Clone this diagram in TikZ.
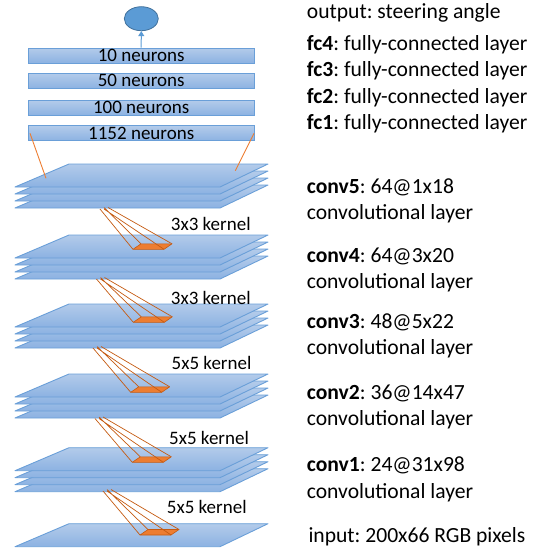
\documentclass[tikz,border=0pt]{standalone}
\usepackage{fontspec}
\setmainfont{Carlito}
\frenchspacing
\usetikzlibrary{arrows.meta,shapes.geometric}
\definecolor{pbord}{HTML}{6A9FD8}
\definecolor{ptop}{HTML}{B3CBEA}
\definecolor{pbot}{HTML}{8CB2E2}
\definecolor{kfill}{HTML}{ED7D31}
\definecolor{kline}{HTML}{C55A11}
\definecolor{ellf}{HTML}{5B9BD5}
\definecolor{elld}{HTML}{41719C}
\tikzset{
  planestyle/.style={draw=pbord, line width=0.9pt, top color=ptop, bottom color=pbot, line join=round},
  neuronbox/.style={draw=pbord, line width=0.9pt, top color=ptop, bottom color=pbot, minimum width=225.7pt, minimum height=15pt, inner sep=0pt, font=\fontsize{19}{19}\selectfont},
  kernelbox/.style={fill=kfill, draw=kline, line width=0.6pt, line join=round},
  kernelline/.style={draw=kline, line width=0.7pt},
  fcline/.style={draw=kfill, line width=0.9pt},
  kernellabel/.style={anchor=west, inner sep=0pt, font=\fontsize{19}{19}\selectfont},
  desc/.style={anchor=west, inner sep=0pt, font=\fontsize{21.6}{26}\selectfont},
}
\newcommand\myplane[1]{\path[planestyle] (15,#1) -- (220,#1) -- (268,#1-23) -- (69,#1-23) -- cycle;}
\newcommand\mystack[1]{\myplane{#1+21}\myplane{#1+14}\myplane{#1+7}\myplane{#1}}
% kernel: #1 name, #2 apex x, #3 apex y, #4 kernel front-left x, #5 kernel front y
\newcommand\mykernel[5]{%
  \coordinate (#1a1) at (#2,#3);
  \coordinate (#1a2) at (#2+4,#3);
  \coordinate (#1a3) at (#2+8,#3-1.5);
  \coordinate (#1a4) at (#2+4,#3-1.5);
  \coordinate (#1k1) at (#4,#5);
  \coordinate (#1k2) at (#4+31,#5);
  \coordinate (#1k3) at (#4+39,#5-5.5);
  \coordinate (#1k4) at (#4+8,#5-5.5);
  \path[kernelbox] (#1k1) -- (#1k2) -- (#1k3) -- (#1k4) -- cycle;
  \draw[kernelline] (#1a1) -- (#1k1) (#1a2) -- (#1k2) (#1a3) -- (#1k3) (#1a4) -- (#1k4);
}
\begin{document}
\begin{tikzpicture}[x=1pt,y=-1pt]
\useasboundingbox (0,0) rectangle (544,550);
% neuron boxes
\node[neuronbox] (fcfour) at (141.2,55.5) {10 neurons};
\node[neuronbox] (fcthree) at (141.2,80.8) {50 neurons};
\node[neuronbox] (fctwo) at (141.2,107.8) {100 neurons};
\node[neuronbox] (fcone) at (141.2,133.2) {1152 neurons};
\node[ellipse, fill=ellf, draw=elld, line width=0.8pt, minimum width=34pt, minimum height=24pt, inner sep=0pt] (out) at (141.3,18.7) {};
\draw[ellf, line width=1pt, -{Triangle[length=5pt,width=6pt]}] (fcfour.north) -- (out.south);
% stacks
\mystack{187}
\mystack{258}
\mystack{327}
\mystack{397}
\mystack{470.7}
\myplane{546.7}
% fc1 connectors
\coordinate (fcl) at (46,178.3);
\coordinate (fcr) at (235.3,170.7);
\draw[fcline] (30,133.3) -- (fcl);
\draw[fcline] (254,133.3) -- (fcr);
% kernels
\mykernel{ka}{100}{209}{133}{249.3}
\mykernel{kb}{96.5}{279}{133.3}{322.3}
\mykernel{kc}{93}{348}{130.7}{392.3}
\mykernel{kd}{95}{418.5}{132.3}{462.3}
\mykernel{ke}{103}{491}{140}{535}
% kernel labels
\node[kernellabel] (la) at (170.7,224) {3x3 kernel};
\node[kernellabel] (lb) at (170.7,298) {3x3 kernel};
\node[kernellabel] (lc) at (171.5,363.3) {5x5 kernel};
\node[kernellabel] (ld) at (169,438.3) {5x5 kernel};
\node[kernellabel] (le) at (166.7,506.7) {5x5 kernel};
% descriptions
\node[desc] (dout) at (306.7,12.7) {output: steering angle};
\node[desc] (dfcfour) at (306.7,44.3) {\textbf{fc4}: fully-connected layer};
\node[desc] (dfcthree) at (306.7,71) {\textbf{fc3}: fully-connected layer};
\node[desc] (dfctwo) at (306.7,97.7) {\textbf{fc2}: fully-connected layer};
\node[desc] (dfcone) at (306.7,123.3) {\textbf{fc1}: fully-connected layer};
\node[desc] (dcfive) at (306.7,187.7) {\textbf{conv5}: 64@1x18};
\node[desc] (dcfiveb) at (306.7,213.3) {convolutional layer};
\node[desc] (dcfour) at (306.7,256.7) {\textbf{conv4}: 64@3x20};
\node[desc] (dcfourb) at (306.7,282.5) {convolutional layer};
\node[desc] (dcthree) at (306.7,322.7) {\textbf{conv3}: 48@5x22};
\node[desc] (dcthreeb) at (306.7,348.3) {convolutional layer};
\node[desc] (dctwo) at (306.7,393.3) {\textbf{conv2}: 36@14x47};
\node[desc] (dctwob) at (306.7,419.3) {convolutional layer};
\node[desc] (dcone) at (306.7,465.7) {\textbf{conv1}: 24@31x98};
\node[desc] (dconeb) at (306.7,492.3) {convolutional layer};
\node[desc] (din) at (308.3,536.7) {input: 200x66 RGB pixels};
\end{tikzpicture}
\end{document}
